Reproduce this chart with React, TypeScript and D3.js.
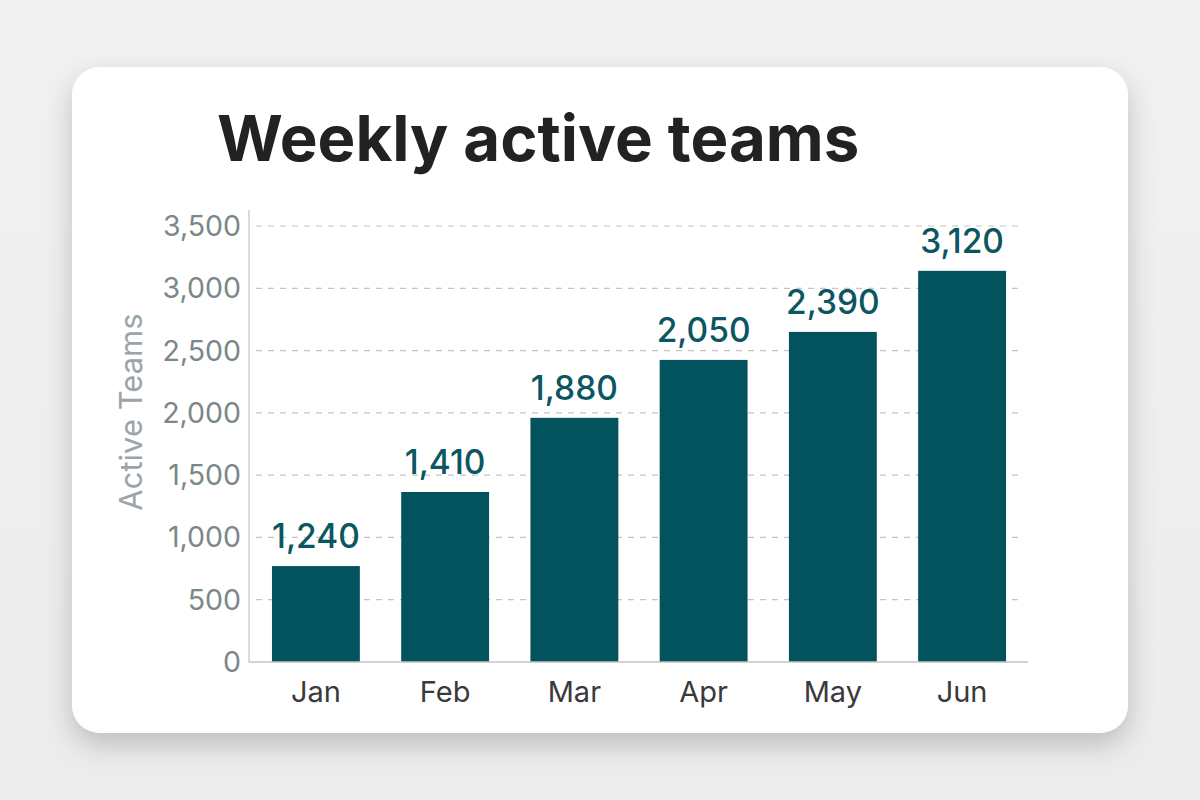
import { useEffect, useRef } from 'react'
import * as d3 from 'd3'

const months = ['Jan', 'Feb', 'Mar', 'Apr', 'May', 'Jun']
// bar heights as drawn in the picture
const barValues = [770, 1365, 1960, 2425, 2650, 3140]
// value labels as printed above each bar
const valueLabels = ['1,240', '1,410', '1,880', '2,050', '2,390', '3,120']
const yTicks = [0, 500, 1000, 1500, 2000, 2500, 3000, 3500]

const W = 1200
const H = 800
const FONT = 'Inter, "Liberation Sans", Arial, sans-serif'
const BAR = '#03535f'

export default function App() {
  const svgRef = useRef<SVGSVGElement>(null)

  useEffect(() => {
    if (!svgRef.current) return
    const svg = d3.select(svgRef.current)
    svg.selectAll('*').remove()

    const margin = { left: 250, right: 1028, top: 226, bottom: 662 }

    const x = d3.scaleBand()
      .domain(months)
      .range([margin.left, margin.right])
      .paddingInner(0.32)
      .paddingOuter(0.17)

    const y = d3.scaleLinear()
      .domain([0, 3500])
      .range([margin.bottom, margin.top])

    const defs = svg.append('defs')
    const bg = defs.append('linearGradient').attr('id', 'bg').attr('x1', 0).attr('y1', 0).attr('x2', 0).attr('y2', 1)
    bg.append('stop').attr('offset', '0%').attr('stop-color', '#f1f1f1')
    bg.append('stop').attr('offset', '100%').attr('stop-color', '#ececec')

    const shadow = defs.append('filter').attr('id', 'shadow')
      .attr('x', '-10%').attr('y', '-10%').attr('width', '120%').attr('height', '130%')
    shadow.append('feDropShadow')
      .attr('dx', 0).attr('dy', 12).attr('stdDeviation', 14)
      .attr('flood-color', '#000').attr('flood-opacity', 0.2)

    svg.append('rect').attr('width', W).attr('height', H).attr('fill', 'url(#bg)')

    // Card
    svg.append('rect')
      .attr('x', 72).attr('y', 67)
      .attr('width', 1056).attr('height', 666)
      .attr('rx', 28)
      .attr('fill', '#fff')
      .attr('filter', 'url(#shadow)')

    // Title
    svg.append('text')
      .attr('x', 217).attr('y', 161)
      .attr('font-family', FONT)
      .attr('font-size', 63.5)
      .attr('font-weight', 700)
      .attr('fill', '#222')
      .text('Weekly active teams')

    const g = svg.append('g')

    // Gridlines
    yTicks.filter(t => t > 0).forEach(t => {
      g.append('line')
        .attr('x1', margin.left + 6).attr('x2', margin.right - 6)
        .attr('y1', y(t)).attr('y2', y(t))
        .attr('stroke', '#c4c4c4')
        .attr('stroke-width', 1.2)
        .attr('stroke-dasharray', '6,6')
    })

    // Y axis line
    g.append('line')
      .attr('x1', margin.left - 1).attr('x2', margin.left - 1)
      .attr('y1', 210).attr('y2', margin.bottom)
      .attr('stroke', '#cfcfcf').attr('stroke-width', 1.5)

    // Y tick labels
    yTicks.forEach(t => {
      g.append('text')
        .attr('x', 241)
        .attr('y', y(t) + 10)
        .attr('text-anchor', 'end')
        .attr('font-family', FONT)
        .attr('font-size', 28.5)
        .attr('fill', '#7b8789')
        .text(d3.format(',')(t))
    })

    // Y axis title
    g.append('text')
      .attr('transform', `translate(142, ${(margin.top + margin.bottom) / 2 - 32}) rotate(-90)`)
      .attr('text-anchor', 'middle')
      .attr('font-family', FONT)
      .attr('font-size', 31)
      .attr('fill', '#9ba5a7')
      .text('Active Teams')

    // Bars
    months.forEach((m, i) => {
      g.append('rect')
        .attr('x', x(m)!)
        .attr('y', y(barValues[i]))
        .attr('width', x.bandwidth())
        .attr('height', y(0) - y(barValues[i]))
        .attr('fill', BAR)

      g.append('text')
        .attr('x', x(m)! + x.bandwidth() / 2)
        .attr('y', y(barValues[i]) - 18)
        .attr('text-anchor', 'middle')
        .attr('font-family', FONT)
        .attr('font-size', 33.5)
        .attr('font-weight', 500)
        .attr('fill', '#0b5660')
        .text(valueLabels[i])

      g.append('text')
        .attr('x', x(m)! + x.bandwidth() / 2)
        .attr('y', 702)
        .attr('text-anchor', 'middle')
        .attr('font-family', FONT)
        .attr('font-size', 29)
        .attr('fill', '#3a3a3a')
        .text(m)
    })

    // Baseline
    g.append('line')
      .attr('x1', margin.left - 1).attr('x2', margin.right)
      .attr('y1', y(0)).attr('y2', y(0))
      .attr('stroke', '#c4c4c4').attr('stroke-width', 1.5)
  }, [])

  return (
    <div style={{ position: 'absolute', left: 0, top: 0, width: W, height: H }}>
      <svg ref={svgRef} width={W} height={H} style={{ display: 'block' }} />
    </div>
  )
}
